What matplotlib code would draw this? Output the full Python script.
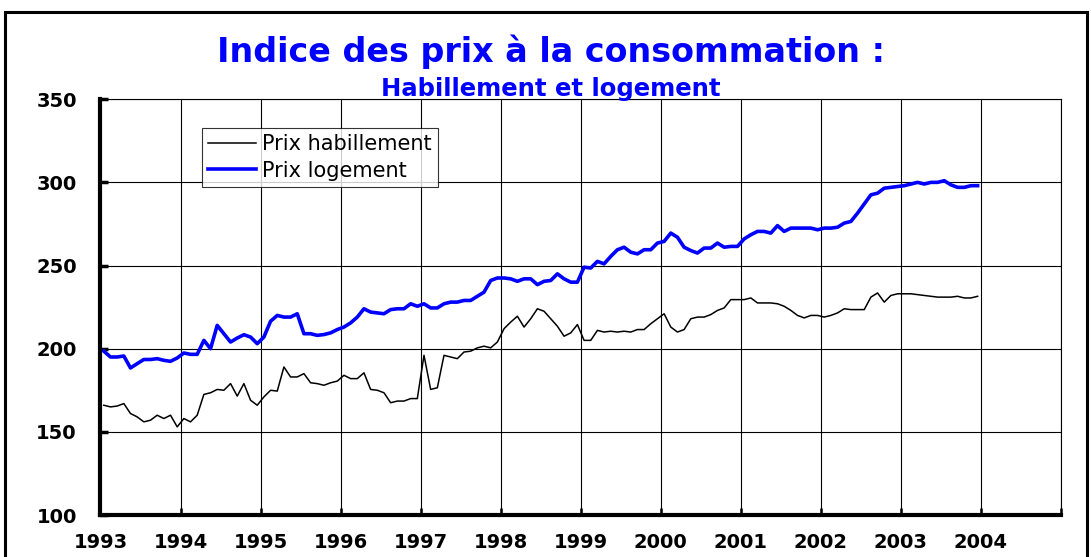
import numpy as np
import matplotlib
matplotlib.use("Agg")
import matplotlib.pyplot as plt
from matplotlib.patches import Rectangle

# Monthly consumer price index, January 1993 - December 2003
start_year = 1993
habillement = [
    166, 165, 165.5, 167, 161, 159, 156, 157, 160, 158, 160, 153,            # 1993
    158, 156, 160, 172.5, 173.5, 175.5, 175, 179, 171.5, 179, 169, 166,      # 1994
    171, 175, 174.5, 189, 183, 183, 185, 179.5, 179, 178, 179.5, 180.5,      # 1995
    184, 182, 182, 185.5, 175.5, 175, 173.5, 167.5, 168.5, 168.5, 170, 170,  # 1996
    196, 175.5, 176.5, 196, 195, 194, 198, 198.5, 200.5, 201.5, 200.5, 204,  # 1997
    212, 216, 219.5, 213, 218, 224, 222.5, 218, 213.5, 207.5, 209.5, 214.5,  # 1998
    205, 205, 211, 210, 210.5, 210, 210.5, 210, 211.5, 211.5, 215, 218,      # 1999
    221, 213, 210, 211.5, 218, 219, 219, 220.5, 223, 224.5, 229.5, 229.5,    # 2000
    229.5, 230.5, 227.5, 227.5, 227.5, 227, 225.5, 223, 220, 218.5, 220, 220,  # 2001
    219, 220, 221.5, 224, 223.5, 223.5, 223.5, 231, 233.5, 228, 232, 233,    # 2002
    233, 233, 232.5, 232, 231.5, 231, 231, 231, 231.5, 230.5, 230.5, 231.5,  # 2003
]
logement = [
    198.5, 195, 195, 195.6, 188.4, 191, 193.5, 193.5, 194, 193, 192.4, 194.4,  # 1993
    197.4, 196.6, 196.6, 205, 200, 214, 209, 204, 206.4, 208.4, 207, 203,      # 1994
    207, 216.5, 220, 219, 219, 221, 209, 209, 208, 208.5, 209.5, 211.5,        # 1995
    213, 215.5, 219, 224, 222, 221.5, 221, 223.5, 224, 224, 227, 225.5,        # 1996
    227, 224.5, 224.5, 227, 228, 228, 229, 229, 231.5, 234, 241, 242.5,        # 1997
    242.5, 242, 240.5, 242, 242, 238.5, 240.5, 241, 245, 242, 240, 240,        # 1998
    249, 248.5, 252.5, 251, 255.5, 259.5, 261, 258, 257, 259.5, 259.5, 263.5,  # 1999
    264.5, 269.5, 267, 261, 259, 257.5, 260.5, 260.5, 263.5, 261, 261.5, 261.5,  # 2000
    266, 268.5, 270.5, 270.5, 269.5, 274, 270.5, 272.5, 272.5, 272.5, 272.5, 271.5,  # 2001
    272.5, 272.5, 273, 275.5, 276.5, 281.5, 287, 292.5, 293.5, 296.5, 297, 297.5,  # 2002
    298, 299, 300, 299, 300, 300, 301, 298.5, 297, 297, 298, 298,              # 2003
]
year_ticks = list(range(1993, 2006))
year_labels = [str(y) for y in range(1993, 2005)] + [""]
y_ticks = [100, 150, 200, 250, 300, 350]

title = "Indice des prix à la consommation :"
subtitle = "Habillement et logement"
label_hab = "Prix habillement"
label_log = "Prix logement"

# Each monthly value is placed at the middle of its month
months = np.arange(len(habillement))
x = start_year + (months + 0.5) / 12.0

plt.rcParams["font.family"] = ["DejaVu Sans"]
fig = plt.figure(figsize=(10.91, 5.57), dpi=100)
ax = fig.add_axes([0.0921, 0.0754, 0.8804, 0.7465])

ax.plot(x, habillement, color="black", lw=1.1, label=label_hab)
ax.plot(x, logement, color="#0000FF", lw=2.6, label=label_log)

ax.set_xlim(1993, 2005)
ax.set_ylim(100, 350)
ax.set_xticks(year_ticks)
ax.set_xticklabels(year_labels)
ax.set_yticks(y_ticks)
ax.grid(True, color="black", lw=0.8)
ax.set_axisbelow(True)

for side in ("top", "right"):
    ax.spines[side].set_linewidth(0.8)
for side in ("left", "bottom"):
    ax.spines[side].set_linewidth(3)

ax.tick_params(axis="y", direction="in", length=6, width=2.5, pad=17,
               labelsize=14)
ax.tick_params(axis="x", direction="in", length=5, width=1.8, pad=13,
               labelsize=14)
for lab in ax.get_xticklabels() + ax.get_yticklabels():
    lab.set_fontweight("bold")

leg = ax.legend(loc="upper left", bbox_to_anchor=(0.1057, 0.9307),
                borderaxespad=0, fontsize=15, frameon=True, fancybox=False,
                edgecolor="black", handlelength=2.3, handletextpad=0.3,
                labelspacing=0.3, borderpad=0.3)
leg.get_frame().set_linewidth(0.8)

fig.text(0.505, 0.9066, title, ha="center", va="center", color="#0000FF",
         fontsize=24, fontweight="bold")
fig.text(0.505, 0.840, subtitle, ha="center", va="center", color="#0000FF",
         fontsize=17.5, fontweight="bold")

# Outer frame around the whole chart
frame = Rectangle((5 / 1091, -0.05), (1087 - 5) / 1091, 0.05 + (557 - 12) / 557,
                  transform=fig.transFigure, fill=False, edgecolor="black",
                  lw=2.2, clip_on=False)
fig.patches.append(frame)

fig.savefig("out.png", dpi=100)
